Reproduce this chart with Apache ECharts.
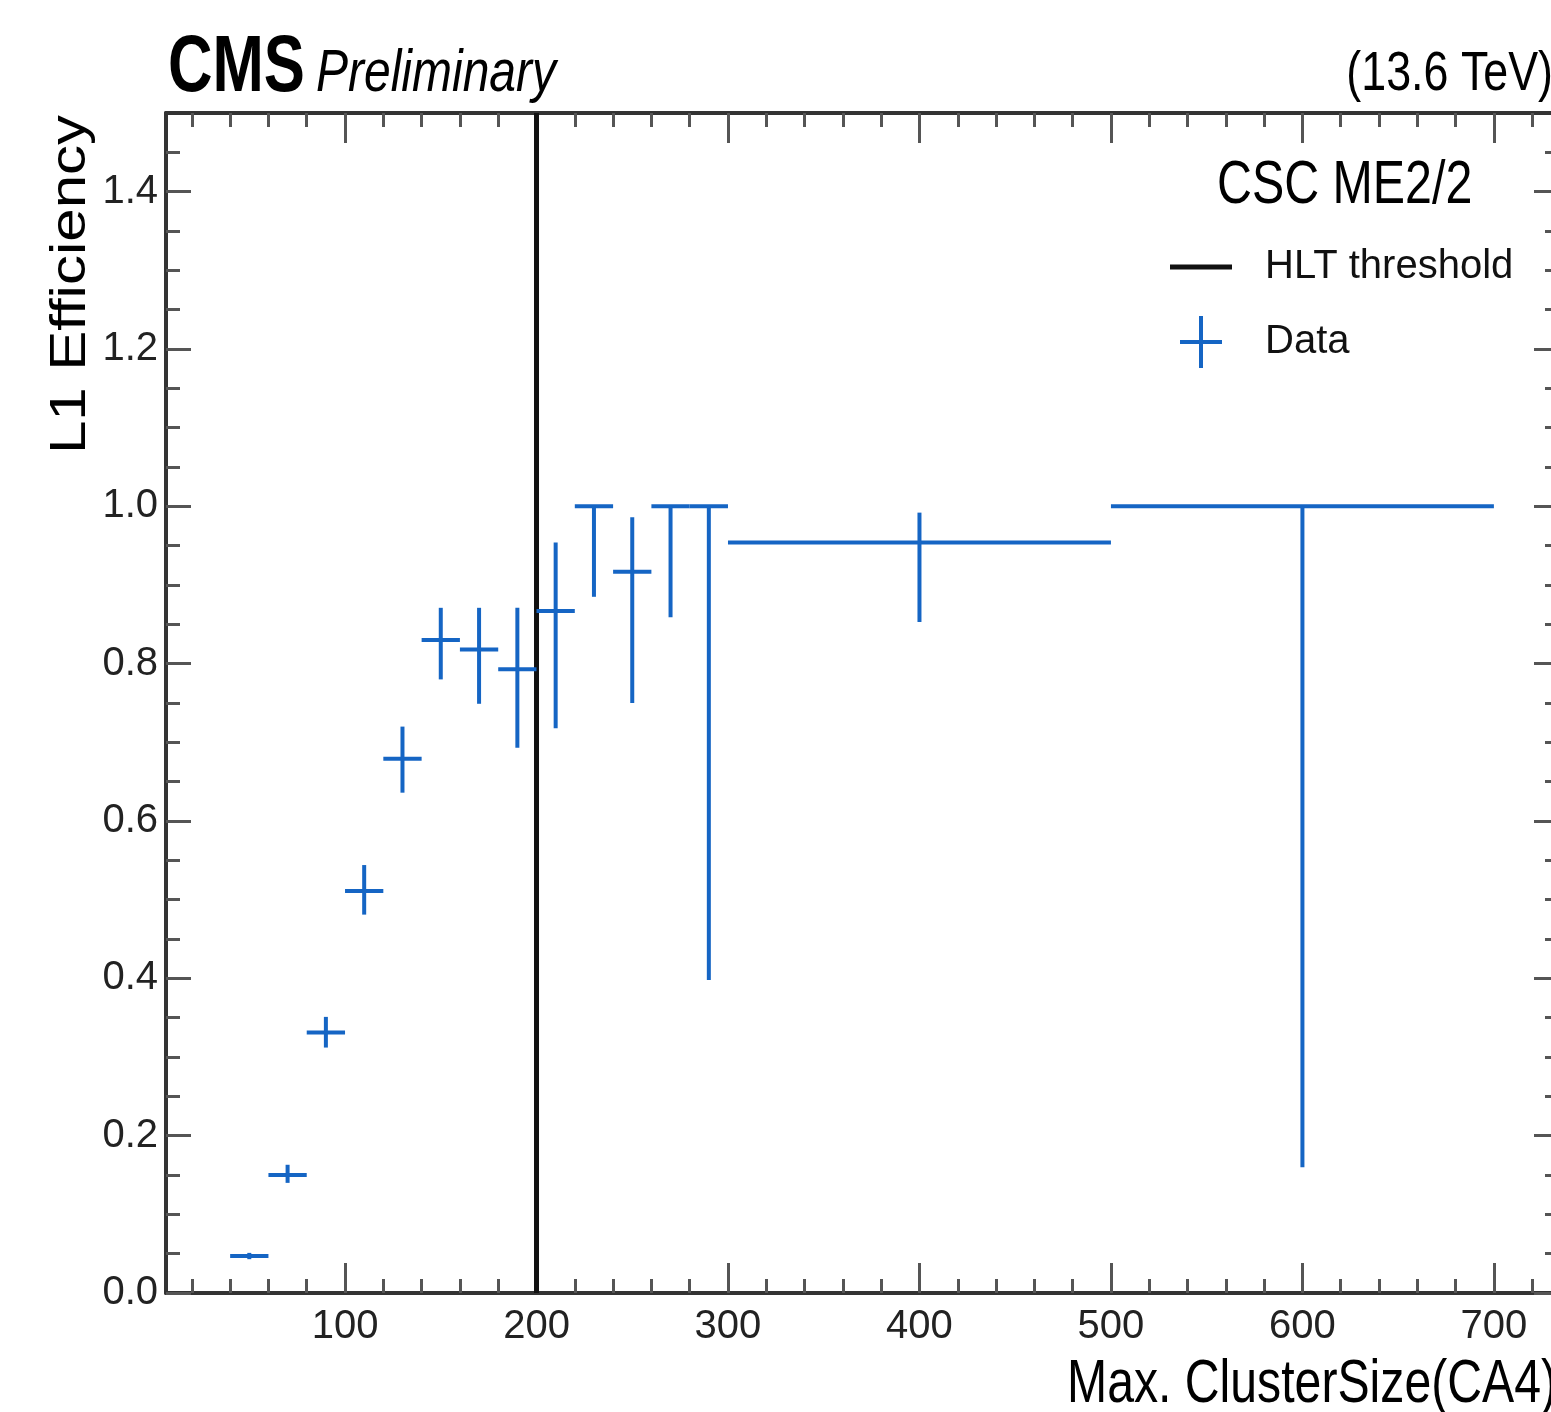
<!DOCTYPE html>
<html>
<head>
<meta charset="utf-8">
<script src="https://cdn.jsdelivr.net/npm/echarts@6/dist/echarts.min.js"></script>
<style>
html,body{margin:0;padding:0;background:#fff;}
#chart{width:1551px;height:1412px;}
</style>
</head>
<body>
<div id="chart"></div>
<script>
// ---- data ----
const binCenters = [50, 70, 90, 110, 130, 150, 170, 190, 210, 230, 250, 270, 290, 400, 600];
const binLow     = [40, 60, 80, 100, 120, 140, 160, 180, 200, 220, 240, 260, 280, 300, 500];
const binHigh    = [60, 80, 100, 120, 140, 160, 180, 200, 220, 240, 260, 280, 300, 500, 700];
const efficiency = [0.047, 0.150, 0.331, 0.511, 0.679, 0.830, 0.818, 0.793, 0.867, 1.000, 0.917, 1.000, 1.000, 0.954, 1.000];
const errDown    = [0.004, 0.010, 0.019, 0.030, 0.043, 0.050, 0.069, 0.100, 0.149, 0.115, 0.167, 0.141, 0.602, 0.101, 0.840];
const errUp      = [0.004, 0.013, 0.020, 0.033, 0.041, 0.041, 0.053, 0.078, 0.087, 0.000, 0.069, 0.000, 0.000, 0.038, 0.000];
const hltThreshold = 200;

const xMajorTicks = [100, 200, 300, 400, 500, 600, 700];
const xMinorTicks = [20, 40, 60, 80, 120, 140, 160, 180, 220, 240, 260, 280, 320, 340, 360, 380,
                     420, 440, 460, 480, 520, 540, 560, 580, 620, 640, 660, 680, 720];
const yMajorTicks = [0, 0.2, 0.4, 0.6, 0.8, 1.0, 1.2, 1.4];
const yMinorTicks = [0.05, 0.1, 0.15, 0.25, 0.3, 0.35, 0.45, 0.5, 0.55, 0.65, 0.7, 0.75, 0.85, 0.9, 0.95,
                     1.05, 1.1, 1.15, 1.25, 1.3, 1.35, 1.45];

const X_MIN = 6.5, X_MAX = 734, Y_MIN = 0, Y_MAX = 1.5;

const SANS = '"Liberation Sans", Arial, Helvetica, sans-serif';
const BLUE = '#1565c4';
const AXIS = '#333333';

const errData = binCenters.map((c, i) => [c, efficiency[i], binLow[i], binHigh[i],
  efficiency[i] - errDown[i], efficiency[i] + errUp[i]]);

function xAxisDef(position, ticks, len, showLine, showLabel) {
  return {
    type: 'value', min: X_MIN, max: X_MAX, position: position,
    axisLine: { show: showLine, onZero: false, lineStyle: { color: AXIS, width: 4 } },
    axisTick: { show: true, inside: true, length: len, customValues: ticks,
                lineStyle: { color: '#555', width: 3 } },
    axisLabel: showLabel ? { show: true, customValues: ticks, margin: 34, verticalAlign: 'middle',
                fontFamily: SANS, fontSize: 40, color: '#222' } : { show: false },
    splitLine: { show: false }
  };
}
function yAxisDef(position, ticks, len, showLine, showLabel) {
  return {
    type: 'value', min: Y_MIN, max: Y_MAX, position: position,
    axisLine: { show: showLine, onZero: false, lineStyle: { color: AXIS, width: 4 } },
    axisTick: { show: true, inside: true, length: len, customValues: ticks,
                lineStyle: { color: '#555', width: 3 } },
    axisLabel: showLabel ? { show: true, customValues: ticks, margin: 8,
                formatter: v => v.toFixed(1),
                fontFamily: SANS, fontSize: 40, color: '#222' } : { show: false },
    splitLine: { show: false }
  };
}

const hltIcon = 'path://M0,0 M90,52 M0,23.5 L62,23.5 L62,28.5 L0,28.5 Z';
const crossIcon = 'path://M0,0 M90,52 M29,0 L33,0 L33,24 L52,24 L52,28 L33,28 L33,52 L29,52 L29,28 L10,28 L10,24 L29,24 Z';

const chart = echarts.init(document.getElementById('chart'), null, { renderer: 'canvas' });
chart.setOption({
  animation: false,
  backgroundColor: '#ffffff',
  grid: { left: 166, top: 113, width: 1393, height: 1180, containLabel: false, outerBoundsMode: 'none' },
  xAxis: [
    xAxisDef('bottom', xMajorTicks, 30, true, true),
    xAxisDef('bottom', xMinorTicks, 14, false, false),
    xAxisDef('top', xMajorTicks, 30, true, false),
    xAxisDef('top', xMinorTicks, 14, false, false)
  ],
  yAxis: [
    yAxisDef('left', yMajorTicks, 25, true, true),
    yAxisDef('left', yMinorTicks, 14, false, false),
    yAxisDef('right', yMajorTicks, 25, true, false),
    yAxisDef('right', yMinorTicks, 14, false, false)
  ],
  legend: {
    orient: 'vertical', left: 1170, top: 241, padding: 0,
    itemWidth: 90, itemHeight: 52, itemGap: 23,
    selectedMode: false,
    textStyle: { fontFamily: SANS, fontSize: 40, color: '#111', lineHeight: 52 },
    data: [ { name: 'HLT threshold', icon: hltIcon }, { name: 'Data', icon: crossIcon } ]
  },
  graphic: [
    { type: 'text', x: 168, y: 69, scaleX: 0.78, style: { text: 'CMS', font: 'bold 79px ' + SANS,
      fill: '#000', align: 'left', verticalAlign: 'middle' } },
    { type: 'text', x: 316, y: 74, scaleX: 0.80, style: { text: 'Preliminary', font: 'italic 60px ' + SANS,
      fill: '#000', align: 'left', verticalAlign: 'middle' } },
    { type: 'text', x: 1553, y: 75, scaleX: 0.80, style: { text: '(13.6 TeV)', font: '56px ' + SANS,
      fill: '#000', align: 'right', verticalAlign: 'middle' } },
    { type: 'text', x: 1217, y: 186, scaleX: 0.78, style: { text: 'CSC ME2/2', font: '62px ' + SANS,
      fill: '#000', align: 'left', verticalAlign: 'middle' } },
    { type: 'text', x: 1067, y: 1385, scaleX: 0.79, style: { text: 'Max. ClusterSize(CA4)', font: '61px ' + SANS,
      fill: '#000', align: 'left', verticalAlign: 'middle' } },
    { type: 'text', x: 71, y: 115, rotation: Math.PI / 2, scaleY: 0.83, style: { text: 'L1 Efficiency', font: '60px ' + SANS,
      fill: '#000', align: 'right', verticalAlign: 'middle' } }
  ],
  series: [
    {
      name: 'HLT threshold', type: 'line', xAxisIndex: 0, yAxisIndex: 0,
      data: [[hltThreshold, Y_MIN], [hltThreshold, Y_MAX]],
      symbol: 'none', color: '#111', lineStyle: { color: '#111', width: 5 }, z: 2, silent: true
    },
    {
      name: 'Data', type: 'custom', xAxisIndex: 0, yAxisIndex: 0,
      color: BLUE, itemStyle: { color: BLUE }, z: 3, silent: true,
      data: errData,
      renderItem: function (params, api) {
        const x = api.value(0), y = api.value(1);
        const xl = api.value(2), xh = api.value(3);
        const yl = api.value(4), yh = api.value(5);
        const pL = api.coord([xl, y]), pR = api.coord([xh, y]);
        const pB = api.coord([x, yl]), pT = api.coord([x, yh]);
        const st = { stroke: BLUE, lineWidth: 4, fill: null };
        return {
          type: 'group',
          children: [
            { type: 'line', shape: { x1: pL[0], y1: pL[1], x2: pR[0], y2: pR[1] }, style: st },
            { type: 'line', shape: { x1: pB[0], y1: pB[1], x2: pT[0], y2: pT[1] }, style: st }
          ]
        };
      }
    }
  ]
});
</script>
</body>
</html>
